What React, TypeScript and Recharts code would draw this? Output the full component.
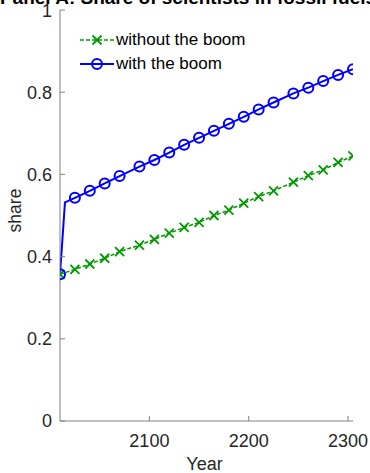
import React from 'react';
import { LineChart, Line, XAxis, YAxis, Legend } from 'recharts';

const TITLE = 'Panel A: Share of scientists in fossil fuels';
const X_LABEL = 'Year';
const Y_LABEL = 'share';

const WITH_BOOM_NAME = 'with the boom';
const WITHOUT_BOOM_NAME = 'without the boom';

const WITH_BOOM_YEARS = [2010, 2015, 2025, 2040, 2055, 2070, 2090, 2105, 2120, 2135, 2150, 2165, 2180, 2195, 2210, 2225, 2245, 2260, 2275, 2290, 2305];
const WITH_BOOM_VALUES = [0.357, 0.532, 0.543, 0.56, 0.578, 0.596, 0.619, 0.635, 0.653, 0.672, 0.689, 0.706, 0.723, 0.74, 0.758, 0.775, 0.797, 0.811, 0.827, 0.842, 0.856];
const WITH_BOOM_UNMARKED_YEARS = [2015];

const WITHOUT_BOOM_YEARS = [2010, 2025, 2040, 2055, 2070, 2090, 2105, 2120, 2135, 2150, 2165, 2180, 2195, 2210, 2225, 2245, 2260, 2275, 2290, 2305];
const WITHOUT_BOOM_VALUES = [0.357, 0.369, 0.382, 0.396, 0.412, 0.428, 0.442, 0.457, 0.471, 0.483, 0.5, 0.513, 0.53, 0.546, 0.56, 0.581, 0.597, 0.611, 0.629, 0.645];

const X_DOMAIN = [2010, 2305];
const X_TICKS = [2100, 2200, 2300];
const Y_TICKS = [0, 0.2, 0.4, 0.6, 0.8, 1];

const BLUE = '#0000ff';
const GREEN = '#009900';
const AXIS = '#808080';
const TEXT = '#262626';
const FONT = '"Liberation Sans", Arial, sans-serif';

const withBoomData = WITH_BOOM_YEARS.map((year, i) => ({ year, share: WITH_BOOM_VALUES[i] }));
const withoutBoomData = WITHOUT_BOOM_YEARS.map((year, i) => ({ year, share: WITHOUT_BOOM_VALUES[i] }));

const CircleDot = (props: any) => {
  const { cx, cy, payload, index } = props;
  if (cx == null || cy == null || WITH_BOOM_UNMARKED_YEARS.includes(payload?.year)) {
    return <g key={`c-${index}`} />;
  }
  return <circle key={`c-${index}`} cx={cx} cy={cy} r={5} fill="none" stroke={BLUE} strokeWidth={2} />;
};

const CrossDot = (props: any) => {
  const { cx, cy, index } = props;
  if (cx == null || cy == null) return <g key={`x-${index}`} />;
  const s = 4.5;
  return (
    <g key={`x-${index}`} stroke={GREEN} strokeWidth={1.8}>
      <line x1={cx - s} y1={cy - s} x2={cx + s} y2={cy + s} />
      <line x1={cx - s} y1={cy + s} x2={cx + s} y2={cy - s} />
    </g>
  );
};

const LegendContent = () => {
  const rows = [
    { name: WITHOUT_BOOM_NAME, kind: 'cross' },
    { name: WITH_BOOM_NAME, kind: 'circle' },
  ];
  return (
    <div style={{ fontFamily: FONT, fontSize: 17, color: '#000' }}>
      {rows.map((r) => (
        <div key={r.name} style={{ display: 'flex', alignItems: 'center', height: 24 }}>
          <svg width={34} height={24} style={{ display: 'block' }}>
            {r.kind === 'cross' ? (
              <g>
                <line x1={0} y1={12} x2={34} y2={12} stroke={GREEN} strokeWidth={1.5} strokeDasharray="4 2" />
                <g stroke={GREEN} strokeWidth={1.8}>
                  <line x1={12.5} y1={7.5} x2={21.5} y2={16.5} />
                  <line x1={12.5} y1={16.5} x2={21.5} y2={7.5} />
                </g>
              </g>
            ) : (
              <g>
                <line x1={0} y1={12} x2={34} y2={12} stroke={BLUE} strokeWidth={2} />
                <circle cx={17} cy={12} r={5} fill="none" stroke={BLUE} strokeWidth={2} />
              </g>
            )}
          </svg>
          <span style={{ marginLeft: 2, whiteSpace: 'nowrap', lineHeight: '24px' }}>{r.name}</span>
        </div>
      ))}
    </div>
  );
};

const XLabel = (props: any) => {
  const vb = props.viewBox || {};
  return (
    <text x={vb.x + vb.width / 2 - 2} y={469.5} textAnchor="middle" fontFamily={FONT} fontSize={18} fill={TEXT}>
      {X_LABEL}
    </text>
  );
};

const YLabel = (props: any) => {
  const vb = props.viewBox || {};
  const cy = vb.y + vb.height / 2 - 5;
  return (
    <text x={20.5} y={cy} transform={`rotate(-90 20.5 ${cy})`} textAnchor="middle" fontFamily={FONT} fontSize={17.5} fill={TEXT}>
      {Y_LABEL}
    </text>
  );
};

export default function App() {
  return (
    <div style={{ position: 'fixed', left: 0, top: 0, width: 370, height: 473, background: '#fff', overflow: 'hidden' }}>
      <LineChart width={370} height={473} margin={{ top: 10, right: 17, bottom: 0, left: 0 }}>
        <XAxis
          dataKey="year"
          type="number"
          domain={X_DOMAIN}
          ticks={X_TICKS}
          allowDataOverflow
          height={52}
          stroke={AXIS}
          tickSize={-5}
          tickMargin={18}
          tick={{ fill: TEXT, fontSize: 18, fontFamily: FONT }}
          tickLine={{ stroke: AXIS }}
          label={<XLabel />}
        />
        <YAxis
          type="number"
          domain={[0, 1]}
          ticks={Y_TICKS}
          width={60}
          stroke={AXIS}
          tickSize={-5}
          tickMargin={13}
          tick={{ fill: TEXT, fontSize: 18, fontFamily: FONT }}
          tickLine={{ stroke: AXIS }}
          label={<YLabel />}
        />
        <Legend
          layout="vertical"
          align="center"
          verticalAlign="middle"
          content={<LegendContent />}
          wrapperStyle={{ left: 80, top: 28, width: 'auto', height: 'auto' }}
        />
        <Line
          data={withoutBoomData}
          dataKey="share"
          name={WITHOUT_BOOM_NAME}
          stroke={GREEN}
          strokeWidth={1.5}
          strokeDasharray="4 2"
          dot={CrossDot}
          activeDot={false}
          isAnimationActive={false}
          type="linear"
        />
        <Line
          data={withBoomData}
          dataKey="share"
          name={WITH_BOOM_NAME}
          stroke={BLUE}
          strokeWidth={2}
          dot={CircleDot}
          activeDot={false}
          isAnimationActive={false}
          type="linear"
        />
      </LineChart>
      <svg width={370} height={30} style={{ position: 'absolute', left: 0, top: 0, pointerEvents: 'none' }}>
        <text x={188} y={4} textAnchor="middle" fontFamily={FONT} fontWeight="bold" fontSize={19} fill="#000">
          {TITLE}
        </text>
      </svg>
    </div>
  );
}
